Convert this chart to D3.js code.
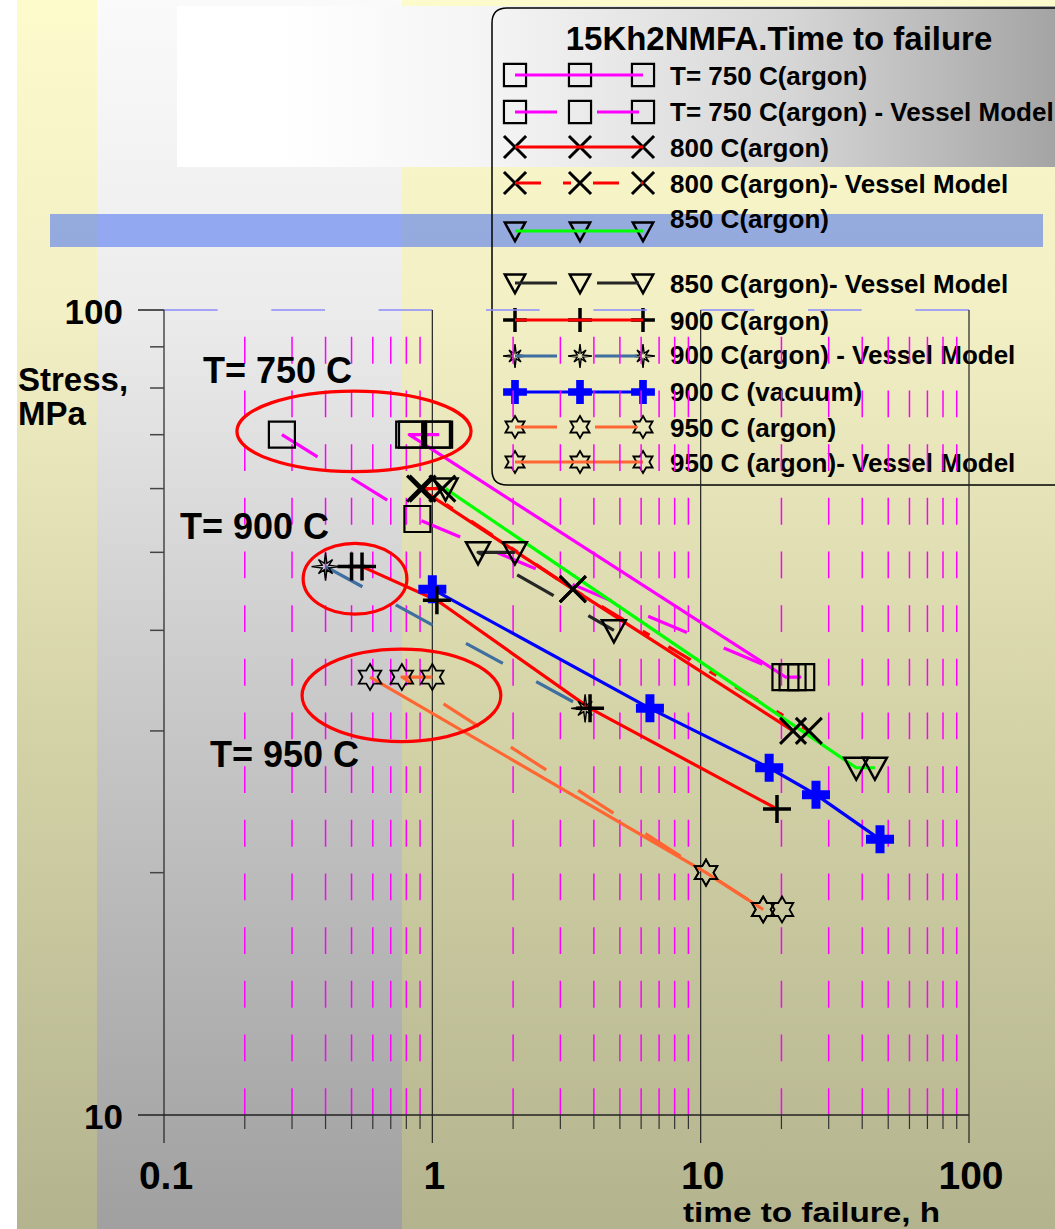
<!DOCTYPE html>
<html>
<head>
<meta charset="utf-8">
<script src="https://cdn.jsdelivr.net/npm/d3@7"></script>
<style>
  body { margin: 0; background: #fff; }
  svg { display: block; }
  text { font-family: "Liberation Sans", Arial, sans-serif; font-weight: bold; fill: #000; }
</style>
</head>
<body>
<svg id="chart" width="1055" height="1229"></svg>
<script>
// ---- axis ticks and labels ----
const xMajorTicks = [0.1, 1, 10, 100];
const xTickLabels = ["0.1", "1", "10", "100"];
const yMajorTicks = [10, 100];
const yTickLabels = ["10", "100"];
const xAxisTitle = "time to failure, h";
const yAxisTitle = ["Stress,", "MPa"];
const legendTitle = "15Kh2NMFA.Time to failure";

// ---- series names (legend order) ----
const seriesNames = [
  "T= 750 C(argon)",
  "T= 750 C(argon) - Vessel Model",
  "800 C(argon)",
  "800 C(argon)- Vessel Model",
  "850 C(argon)",
  "850 C(argon)- Vessel Model",
  "900 C(argon)",
  "900 C(argon) - Vessel Model",
  "900 C (vacuum)",
  "950 C (argon)",
  "950 C (argon)- Vessel Model"
];

// ---- series values: time to failure (h) and stress (MPa) ----
const time750 = [1.06, 1.04, 0.84, 0.82, 20.7, 23.7];
const stress750 = [70, 70, 70, 70, 35, 35];
const time750v = [0.275, 0.88, 22.0];
const stress750v = [70, 55, 35];

const time800 = [0.90, 3.34, 22.1];
const stress800 = [60, 45, 30];
const time800v = [1.09, 0.92, 3.34, 25.3];
const stress800v = [60, 60, 45, 30];

const time850 = [1.12, 38.0, 44.6];
const stress850 = [60, 27, 27];
const time850v = [2.03, 1.48, 4.75];
const stress850v = [50, 50, 40];

const time900 = [0.50, 0.547, 1.04, 3.87, 19.25];
const stress900 = [48, 48, 43.6, 32, 24];
const time900v = [0.40, 3.71];
const stress900v = [48, 32];

const time900vac = [1.0, 6.47, 18.0, 26.9, 46.6];
const stress900vac = [45, 32, 27, 25, 22];

const time950 = [1.0, 0.77, 10.47, 17.1, 20.1];
const stress950 = [35, 35, 20, 18, 18];
const time950v = [0.586, 10.47, 17.1];
const stress950v = [35, 20, 18];

// ---- annotation groups: label text and the ring drawn round each group ----
const groupLabels = ["T= 750 C", "T= 900 C", "T= 950 C"];
const ringTime = [[0.187, 1.394], [0.33, 0.804], [0.327, 1.80]];   // left / right edge, h
const ringStress = [[79.3, 63.0], [51.3, 41.9], [37.9, 29.1]];    // top / bottom edge, MPa

// ---- styles per series ----
const seriesColors = ["#ff00ff", "#ff00ff", "#ff0000", "#ff0000", "#00ff00", "#262626",
                      "#ff0000", "#3f6fa0", "#0000ff", "#ff6633", "#ff6633"];
const seriesDashes = [null, "42 40", null, "26 22 8 22", null, "42 40",
                      null, "42 38", null, "42 38", null];
const seriesMarkers = ["square", "square", "cross", "cross", "triangle", "triangle",
                       "plus", "burst", "bigplus", "hexstar", "hexstar"];

const seriesTimes = [time750, time750v, time800, time800v, time850, time850v,
                     time900, time900v, time900vac, time950, time950v];
const seriesStress = [stress750, stress750v, stress800, stress800v, stress850, stress850v,
                      stress900, stress900v, stress900vac, stress950, stress950v];

const series = seriesNames.map((name, i) => ({
  name,
  color: seriesColors[i],
  dash: seriesDashes[i],
  marker: seriesMarkers[i],
  points: seriesTimes[i].map((t, k) => [t, seriesStress[i][k]])
}));

// ---- scales ----
const x = d3.scaleLog().domain([0.1, 100]).range([164, 969]);
const y = d3.scaleLog().domain([10, 100]).range([1115, 310]);

const svg = d3.select("#chart");
const defs = svg.append("defs");

function vGrad(id, stops) {
  const g = defs.append("linearGradient").attr("id", id)
    .attr("x1", 0).attr("y1", 0).attr("x2", 0).attr("y2", 1);
  stops.forEach(([o, c]) => g.append("stop").attr("offset", o).attr("stop-color", c));
}
function hGrad(id, stops) {
  const g = defs.append("linearGradient").attr("id", id)
    .attr("x1", 0).attr("y1", 0).attr("x2", 1).attr("y2", 0);
  stops.forEach(([o, c]) => g.append("stop").attr("offset", o).attr("stop-color", c));
}
vGrad("bgYellow", [[0, "#fdfbcc"], [0.25, "#f2f0c4"], [0.57, "#d6d5a9"], [1, "#b3b38e"]]);
vGrad("bgGray", [[0, "#fafafa"], [0.25, "#ececec"], [0.57, "#c9c9c9"], [1, "#a0a0a0"]]);
hGrad("bgBanner", [[0, "#ffffff"], [0.12, "#ffffff"], [0.36, "#f4f4f4"], [0.7, "#d6d6d6"], [1, "#a4a4a4"]]);

// ---- backdrop ----
svg.append("rect").attr("x", 17).attr("y", 0).attr("width", 1038).attr("height", 1229).attr("fill", "url(#bgYellow)");
svg.append("rect").attr("x", 97).attr("y", 0).attr("width", 305).attr("height", 1229).attr("fill", "url(#bgGray)");
svg.append("rect").attr("x", 177).attr("y", 6).attr("width", 878).attr("height", 161).attr("fill", "url(#bgBanner)");
svg.append("rect").attr("x", 50).attr("y", 214).attr("width", 993).attr("height", 33)
  .attr("fill", "rgb(70,110,240)").attr("fill-opacity", 0.55);

// ---- marker shapes ----
function starPath(radii, inner, n) {
  const pts = [];
  for (let k = 0; k < n; k++) {
    const a = -Math.PI / 2 + k * 2 * Math.PI / n;
    const r = radii[k % radii.length];
    pts.push([r * Math.cos(a), r * Math.sin(a)]);
    const b = a + Math.PI / n;
    pts.push([inner * Math.cos(b), inner * Math.sin(b)]);
  }
  return "M" + pts.map(p => p[0].toFixed(2) + "," + p[1].toFixed(2)).join("L") + "Z";
}
function bigPlusPath(s, w) {
  const a = s / 2, b = w / 2;
  return `M${-b},${-a}H${b}V${-b}H${a}V${b}H${b}V${a}H${-b}V${b}H${-a}V${-b}H${-b}Z`;
}
function drawMarker(g, type, cx, cy, scale) {
  const s = scale;
  const m = g.append("path").attr("transform", `translate(${cx},${cy})`);
  switch (type) {
    case "square":
      m.attr("d", `M${-13 * s},${-13 * s}h${26 * s}v${26 * s}h${-26 * s}Z`)
        .attr("fill", "none").attr("stroke", "#000").attr("stroke-width", 2.2);
      break;
    case "cross":
      m.attr("d", `M${-13 * s},${-13 * s}L${13 * s},${13 * s}M${13 * s},${-13 * s}L${-13 * s},${13 * s}`)
        .attr("fill", "none").attr("stroke", "#000").attr("stroke-width", 3);
      break;
    case "triangle":
      m.attr("d", `M${-12 * s},${-10 * s}L${12 * s},${-10 * s}L0,${12 * s}Z`)
        .attr("fill", "none").attr("stroke", "#000").attr("stroke-width", 2.5).attr("stroke-linejoin", "miter");
      break;
    case "plus":
      m.attr("d", `M${-14 * s},0H${14 * s}M0,${-14 * s}V${14 * s}`)
        .attr("fill", "none").attr("stroke", "#000").attr("stroke-width", 3.5);
      break;
    case "bigplus":
      m.attr("d", bigPlusPath(28 * s, 9 * s)).attr("fill", "#0000ff");
      break;
    case "burst":
      m.attr("d", starPath([14 * s, 10 * s], 3.5 * s, 8))
        .attr("fill", "none").attr("stroke", "#000").attr("stroke-width", 1.4);
      break;
    case "hexstar":
      m.attr("d", starPath([13 * s], 7.5 * s, 6))
        .attr("fill", "none").attr("stroke", "#000").attr("stroke-width", 1.8);
      break;
  }
}

// ---- legend ----
const legend = svg.append("g");
legend.append("path")
  .attr("d", "M1070,485H507Q492,485 492,470V23Q492,8 507,8H1070")
  .attr("fill", "none").attr("stroke", "#000").attr("stroke-width", 1.5);
legend.append("text").attr("x", 779).attr("y", 50).attr("text-anchor", "middle")
  .style("font-size", "33px").text(legendTitle);

const legendMarkerY = [75, 112, 147, 183, 231, 283, 320, 356, 392, 427, 462];
const legendTextY = [85, 121, 157, 193, 228, 293, 330, 364, 401, 437, 472];
const legendMarkerX = [515, 580, 643];
series.forEach((s, i) => {
  const ly = legendMarkerY[i];
  legendMarkerX.forEach(mx => drawMarker(legend, s.marker, mx, ly, 0.85));
  legend.append("line")
    .attr("x1", legendMarkerX[0]).attr("x2", legendMarkerX[2]).attr("y1", ly).attr("y2", ly)
    .attr("stroke", s.color).attr("stroke-width", 3.2)
    .attr("stroke-dasharray", s.dash);
  legend.append("text").attr("x", 670).attr("y", legendTextY[i])
    .style("font-size", "26px").text(s.name);
});

// ---- grid and axes ----
const plot = svg.append("g");
const minorTicks = [];
[0.1, 1, 10].forEach(d => { for (let k = 2; k <= 9; k++) minorTicks.push(d * k); });
const decade = y(10) - y(100);

plot.selectAll("line.gridMinor").data(minorTicks).join("line")
  .attr("class", "gridMinor")
  .attr("x1", d => x(d)).attr("x2", d => x(d))
  .attr("y1", y(100)).attr("y2", y(10))
  .attr("stroke", "#ff00ff").attr("stroke-width", 1.5)
  .attr("stroke-dasharray", `${decade / 30} ${decade / 30}`)
  .attr("stroke-dashoffset", decade / 30);

// top reference line at 100 MPa
plot.append("line")
  .attr("x1", x(0.1)).attr("x2", x(100)).attr("y1", y(100)).attr("y2", y(100))
  .attr("stroke", "#8c8cff").attr("stroke-width", 1.6)
  .attr("stroke-dasharray", `${decade / 15} ${decade / 15}`);

// decade verticals
plot.selectAll("line.major").data(xMajorTicks).join("line")
  .attr("class", "major")
  .attr("x1", d => x(d)).attr("x2", d => x(d))
  .attr("y1", y(100)).attr("y2", y(10) + 28)
  .attr("stroke", "#222").attr("stroke-width", 1.2);
// x axis line and minor ticks
plot.append("line").attr("x1", 138).attr("x2", x(100)).attr("y1", y(10)).attr("y2", y(10))
  .attr("stroke", "#222").attr("stroke-width", 1.5);
plot.selectAll("line.xminor").data(minorTicks).join("line")
  .attr("class", "xminor")
  .attr("x1", d => x(d)).attr("x2", d => x(d))
  .attr("y1", y(10)).attr("y2", y(10) + 14)
  .attr("stroke", "#333").attr("stroke-width", 1.2);
// y axis ticks
plot.append("line").attr("x1", 138).attr("x2", x(0.1)).attr("y1", y(100)).attr("y2", y(100))
  .attr("stroke", "#222").attr("stroke-width", 1.5);
const yMinor = d3.range(20, 100, 10);
plot.selectAll("line.yminor").data(yMinor).join("line")
  .attr("class", "yminor")
  .attr("x1", 150).attr("x2", x(0.1))
  .attr("y1", d => y(d)).attr("y2", d => y(d))
  .attr("stroke", "#444").attr("stroke-width", 1.5);

// tick labels
plot.selectAll("text.xl").data(xMajorTicks).join("text")
  .attr("class", "xl")
  .attr("x", d => x(d) + 2).attr("y", 1189).attr("text-anchor", "middle")
  .style("font-size", "39px")
  .text((d, i) => xTickLabels[i]);
plot.selectAll("text.yl").data(yMajorTicks).join("text")
  .attr("class", "yl")
  .attr("x", 123).attr("y", d => y(d) + 14).attr("text-anchor", "end")
  .style("font-size", "35px")
  .text((d, i) => yTickLabels[i]);

svg.append("text").attr("x", 683).attr("y", 1222).style("font-size", "27px")
  .attr("textLength", 257).attr("lengthAdjust", "spacingAndGlyphs").text(xAxisTitle);
svg.append("text").attr("x", 18).attr("y", 391).style("font-size", "33px").text(yAxisTitle[0]);
svg.append("text").attr("x", 18).attr("y", 425).style("font-size", "33px").text(yAxisTitle[1]);

// ---- series lines ----
const line = d3.line().x(d => x(d[0])).y(d => y(d[1]));
const linesG = svg.append("g");
series.forEach(s => {
  linesG.append("path").datum(s.points)
    .attr("d", line)
    .attr("fill", "none")
    .attr("stroke", s.color)
    .attr("stroke-width", 3.2)
    .attr("stroke-dasharray", s.dash)
    .attr("stroke-linejoin", "round");
});

// ---- highlight rings and temperature labels ----
const ringG = svg.append("g");
ringTime.forEach((tr, i) => {
  const x0 = x(tr[0]), x1 = x(tr[1]);
  const y0 = y(ringStress[i][0]), y1 = y(ringStress[i][1]);
  ringG.append("ellipse")
    .attr("cx", (x0 + x1) / 2).attr("cy", (y0 + y1) / 2)
    .attr("rx", (x1 - x0) / 2).attr("ry", (y1 - y0) / 2)
    .attr("fill", "none").attr("stroke", "#ff0000").attr("stroke-width", 3.2);
});
const labelPos = [[203, 383], [180, 539], [210, 767]];
groupLabels.forEach((t, i) => {
  ringG.append("text").attr("x", labelPos[i][0]).attr("y", labelPos[i][1])
    .style("font-size", "36px").text(t);
});

// ---- markers ----
const markerG = svg.append("g");
const drawOrder = [0, 1, 2, 3, 4, 5, 8, 6, 7, 9, 10];
drawOrder.forEach(i => {
  const s = series[i];
  s.points.forEach(p => drawMarker(markerG, s.marker, x(p[0]), y(p[1]), 1));
});
</script>
</body>
</html>
